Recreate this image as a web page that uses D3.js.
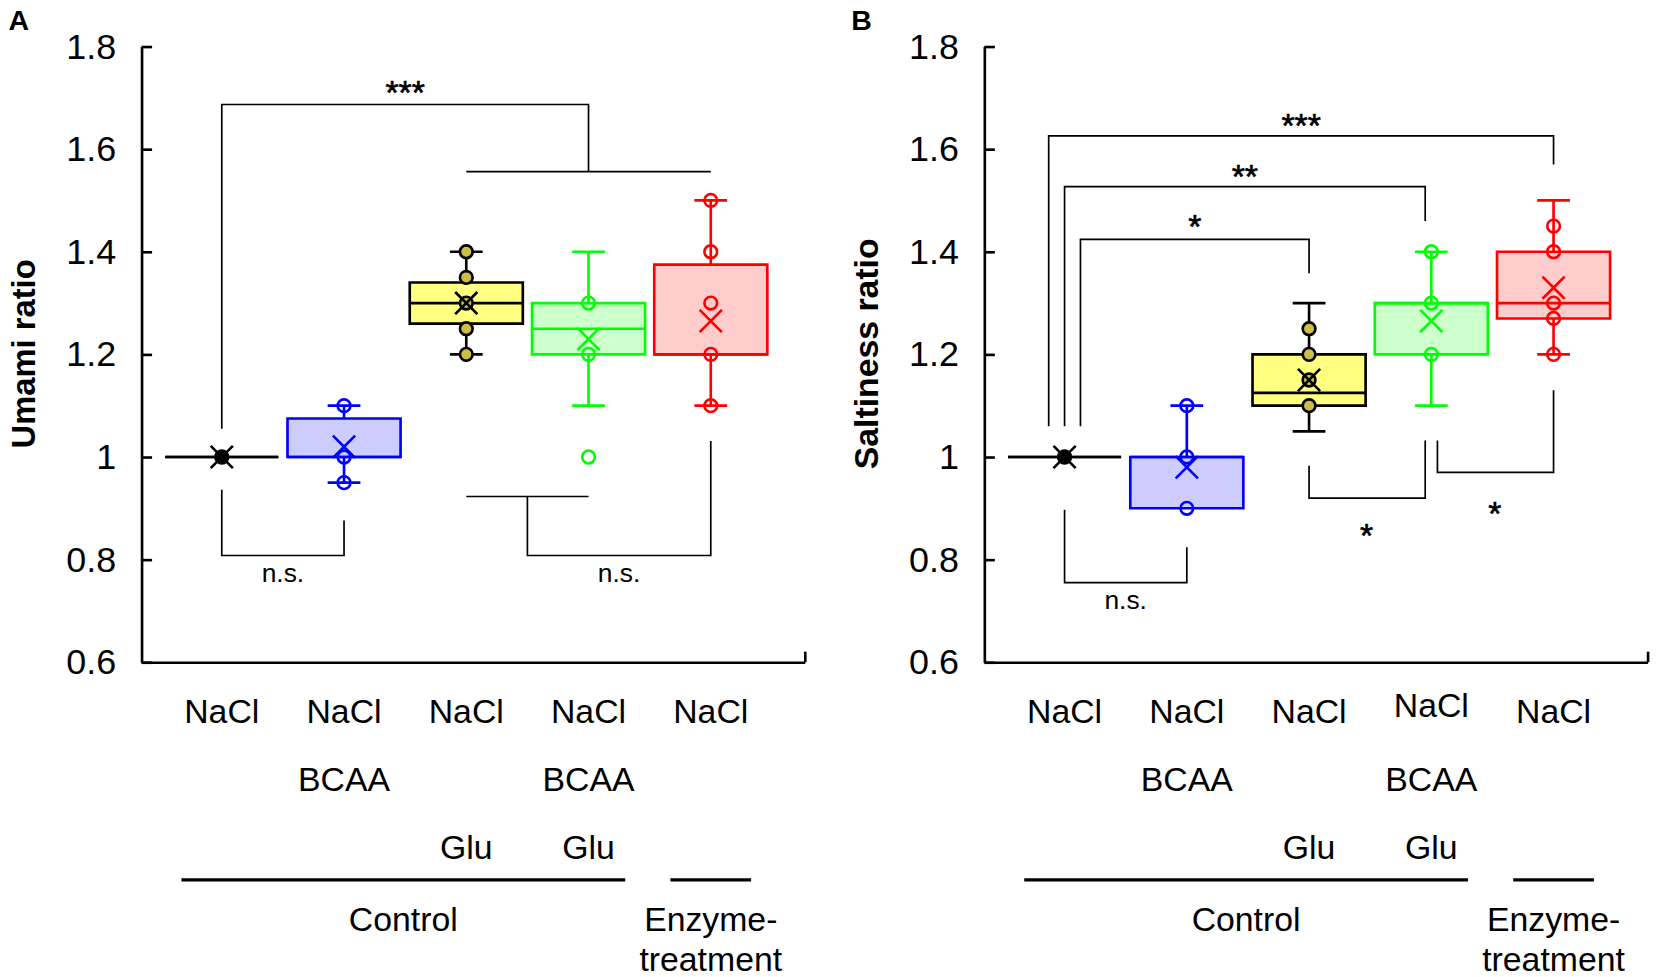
<!DOCTYPE html>
<html><head><meta charset="utf-8">
<script src="https://cdn.jsdelivr.net/npm/d3@7"></script>
<style>
html,body{margin:0;padding:0;background:#fff;}
svg{display:block;font-family:"Liberation Sans",Arial,sans-serif;}
</style></head><body>
<svg id="chart" width="1656" height="977" viewBox="0 0 1568 925"></svg>
<script>
// categories + the 3 label rows under the axis
var categories = ["NaCl", "NaCl+BCAA", "NaCl+Glu", "NaCl+BCAA+Glu", "Enzyme NaCl"];
var labelRow1 = ["NaCl", "NaCl", "NaCl", "NaCl", "NaCl"];
var labelRow2 = ["", "BCAA", "", "BCAA", ""];
var labelRow3 = ["", "", "Glu", "Glu", ""];
var groupNames = [["Control"], ["Enzyme-", "treatment"]];
var groupSpans = [[-0.33, 3.3], [3.67, 4.33]];
var yTicks = [0.6, 0.8, 1, 1.2, 1.4, 1.6, 1.8];

var strokeColors = ["#000000", "#0000ff", "#000000", "#00ff00", "#ff0000"];
var fillColors = ["#000000", "#ccccff", "#ffff80", "#ccffcc", "#ffcccc"];
var pointFills = ["#000000", "none", "#cdbf45", "none", "none"];

// A - umami ratio
var umamiMin = [1.0, 0.95, 1.2, 1.1, 1.1];
var umamiQ1 = [1.0, 1.0, 1.26, 1.2, 1.2];
var umamiMedian = [1.0, 1.0, 1.3, 1.25, 1.2];
var umamiQ3 = [1.0, 1.075, 1.34, 1.3, 1.375];
var umamiMax = [1.0, 1.1, 1.4, 1.4, 1.5];
var umamiMean = [1.0, 1.02, 1.3, 1.23, 1.265];
var umamiPoints = [[1.0], [0.95, 1.0, 1.1], [1.2, 1.25, 1.3, 1.35, 1.4], [1.0, 1.2, 1.3], [1.1, 1.2, 1.3, 1.4, 1.5]];
// brackets: [category index, value]
var umamiBrackets = [
  [[0, 1.055], [0, 1.687], [3, 1.687], [3, 1.556]],
  [[2, 1.556], [4, 1.556]],
  [[0, 0.936], [0, 0.808], [1, 0.808], [1, 0.876]],
  [[2, 0.923], [3, 0.923]],
  [[2.5, 0.923], [2.5, 0.808], [4, 0.808], [4, 1.031]]
];
var umamiSig = [["***", 1.5, 1.728], ["n.s.", 0.5, 0.772], ["n.s.", 3.25, 0.772]];

// B - saltiness ratio
var saltMin = [1.0, 0.9, 1.05, 1.1, 1.2];
var saltQ1 = [1.0, 0.9, 1.1, 1.2, 1.27];
var saltMedian = [1.0, 1.0, 1.125, 1.3, 1.3];
var saltQ3 = [1.0, 1.0, 1.2, 1.3, 1.4];
var saltMax = [1.0, 1.1, 1.3, 1.4, 1.5];
var saltMean = [1.0, 0.98, 1.15, 1.265, 1.33];
var saltPoints = [[1.0], [0.9, 1.0, 1.1], [1.1, 1.15, 1.2, 1.25], [1.2, 1.3, 1.4], [1.2, 1.27, 1.3, 1.4, 1.45]];
var saltBrackets = [
  [[-0.13, 1.06], [-0.13, 1.626], [4, 1.626], [4, 1.57]],
  [[0, 1.06], [0, 1.527], [2.95, 1.527], [2.95, 1.46]],
  [[0.13, 1.06], [0.13, 1.424], [2, 1.424], [2, 1.358]],
  [[0, 0.897], [0, 0.755], [1, 0.755], [1, 0.824]],
  [[2, 0.983], [2, 0.92], [2.95, 0.92], [2.95, 1.032]],
  [[3.05, 1.032], [3.05, 0.97], [4, 0.97], [4, 1.13]]
];
var saltSig = [["***", 1.935, 1.663], ["**", 1.475, 1.564], ["*", 1.065, 1.467],
  ["n.s.", 0.5, 0.72], ["*", 2.47, 0.864], ["*", 3.52, 0.907]];

var svg = d3.select("#chart");

function drawPanel(left, letter, title, s) {
  var g = svg.append("g").attr("transform", "translate(" + left + ",0)");
  var y = d3.scaleLinear().domain([0.6, 1.8]).range([627, 44]);
  var x = d3.scaleLinear().domain([0, 4]).range([76, 539]);
  var bw = (x(1) - x(0)) * 0.925, cap = 31, mk = 10.5;

  // axes
  var ya = g.append("g")
      .call(d3.axisLeft(y).tickValues(yTicks).tickSizeInner(-10).tickSizeOuter(0)
        .tickPadding(24).tickFormat(function(d) { return String(+d.toFixed(1)); }));
  ya.selectAll("path, line").attr("stroke", "#000").attr("stroke-width", 2.5);
  ya.selectAll("text").attr("font-size", 34).attr("fill", "#000")
      .attr("font-family", "Liberation Sans, Arial, sans-serif");
  var xs = d3.scaleLinear().domain([0, 1]).range([0, 628]);
  var xa = g.append("g").attr("transform", "translate(0," + y(0.6) + ")")
      .call(d3.axisBottom(xs).tickValues([1]).tickSizeInner(-10).tickSizeOuter(0).tickFormat(""));
  xa.selectAll("path, line").attr("stroke", "#000").attr("stroke-width", 2.5);

  g.append("text").attr("transform", "translate(-112,335) rotate(-90)")
      .attr("text-anchor", "middle").attr("dy", "0.35em")
      .attr("font-size", s.titleSize).attr("font-weight", "bold").text(title);
  g.append("text").attr("x", -126).attr("y", 28).attr("font-size", 27)
      .attr("font-weight", "bold").text(letter);

  // brackets
  var line = d3.line().x(function(d) { return x(d[0]); }).y(function(d) { return y(d[1]); });
  g.selectAll(".br").data(s.brackets).join("path").attr("class", "br")
      .attr("d", line).attr("fill", "none").attr("stroke", "#000").attr("stroke-width", 1.6);
  g.selectAll(".sig").data(s.sig).join("text").attr("class", "sig")
      .attr("x", function(d) { return x(d[1]); }).attr("y", function(d) { return y(d[2]); })
      .attr("dy", function(d) { return d[0] == "n.s." ? "0.3em" : "0.6em"; })
      .attr("text-anchor", "middle")
      .attr("font-size", function(d) { return d[0] == "n.s." ? 25 : 32; })
      .attr("stroke", function(d) { return d[0] == "n.s." ? "none" : "#000"; })
      .attr("stroke-width", 0.6)
      .text(function(d) { return d[0]; });

  // boxes
  categories.forEach(function(c, i) {
    var bx = g.append("g"), cx = x(i), col = strokeColors[i];
    if (s.max[i] > s.q3[i]) {
      bx.append("line").attr("x1", cx).attr("x2", cx).attr("y1", y(s.q3[i])).attr("y2", y(s.max[i]));
      bx.append("line").attr("x1", cx - cap / 2).attr("x2", cx + cap / 2).attr("y1", y(s.max[i])).attr("y2", y(s.max[i]));
    }
    if (s.min[i] < s.q1[i]) {
      bx.append("line").attr("x1", cx).attr("x2", cx).attr("y1", y(s.q1[i])).attr("y2", y(s.min[i]));
      bx.append("line").attr("x1", cx - cap / 2).attr("x2", cx + cap / 2).attr("y1", y(s.min[i])).attr("y2", y(s.min[i]));
    }
    bx.append("path")
        .attr("d", "M" + (cx - bw / 2) + "," + y(s.q3[i]) + "H" + (cx + bw / 2) + "V" + y(s.q1[i]) + "H" + (cx - bw / 2) + "Z")
        .attr("fill", fillColors[i]);
    bx.append("line").attr("x1", cx - bw / 2).attr("x2", cx + bw / 2)
        .attr("y1", y(s.median[i])).attr("y2", y(s.median[i]));
    bx.selectAll("circle").data(s.points[i]).join("circle")
        .attr("cx", cx).attr("cy", function(d) { return y(d); }).attr("r", 6)
        .attr("fill", pointFills[i]);
    var my = y(s.mean[i]);
    bx.append("path").attr("d", "M" + (cx - mk) + "," + (my - mk) + "L" + (cx + mk) + "," + (my + mk) +
        "M" + (cx - mk) + "," + (my + mk) + "L" + (cx + mk) + "," + (my - mk)).attr("fill", "none");
    bx.selectAll("line, path, circle").attr("stroke", col).attr("stroke-width", 2.5);
  });

  // category labels
  [labelRow1, labelRow2, labelRow3].forEach(function(row, r) {
    g.selectAll(".lab" + r).data(row).join("text").attr("class", "lab" + r)
        .attr("x", function(d, i) { return x(i); })
        .attr("y", function(d, i) { return [673, 738, 802][r] + (s.shift && r == 0 && i == 3 ? -5 : 0); })
        .attr("dy", "0.35em").attr("text-anchor", "middle").attr("font-size", 32)
        .text(function(d) { return d; });
  });
  groupSpans.forEach(function(sp, k) {
    g.append("line").attr("x1", x(sp[0])).attr("x2", x(sp[1])).attr("y1", 833).attr("y2", 833)
        .attr("stroke", "#000").attr("stroke-width", 3);
    groupNames[k].forEach(function(t, j) {
      g.append("text").attr("x", x((sp[0] + sp[1]) / 2)).attr("y", 870 + j * 38)
          .attr("dy", "0.35em").attr("text-anchor", "middle").attr("font-size", 32).text(t);
    });
  });
}

drawPanel(134, "A", "Umami ratio", {min: umamiMin, q1: umamiQ1, median: umamiMedian, q3: umamiQ3,
  max: umamiMax, mean: umamiMean, points: umamiPoints, brackets: umamiBrackets, sig: umamiSig, titleSize: 31});
drawPanel(932, "B", "Saltiness ratio", {min: saltMin, q1: saltQ1, median: saltMedian, q3: saltQ3,
  max: saltMax, mean: saltMean, points: saltPoints, brackets: saltBrackets, sig: saltSig, shift: true, titleSize: 32});
</script>
</body></html>
